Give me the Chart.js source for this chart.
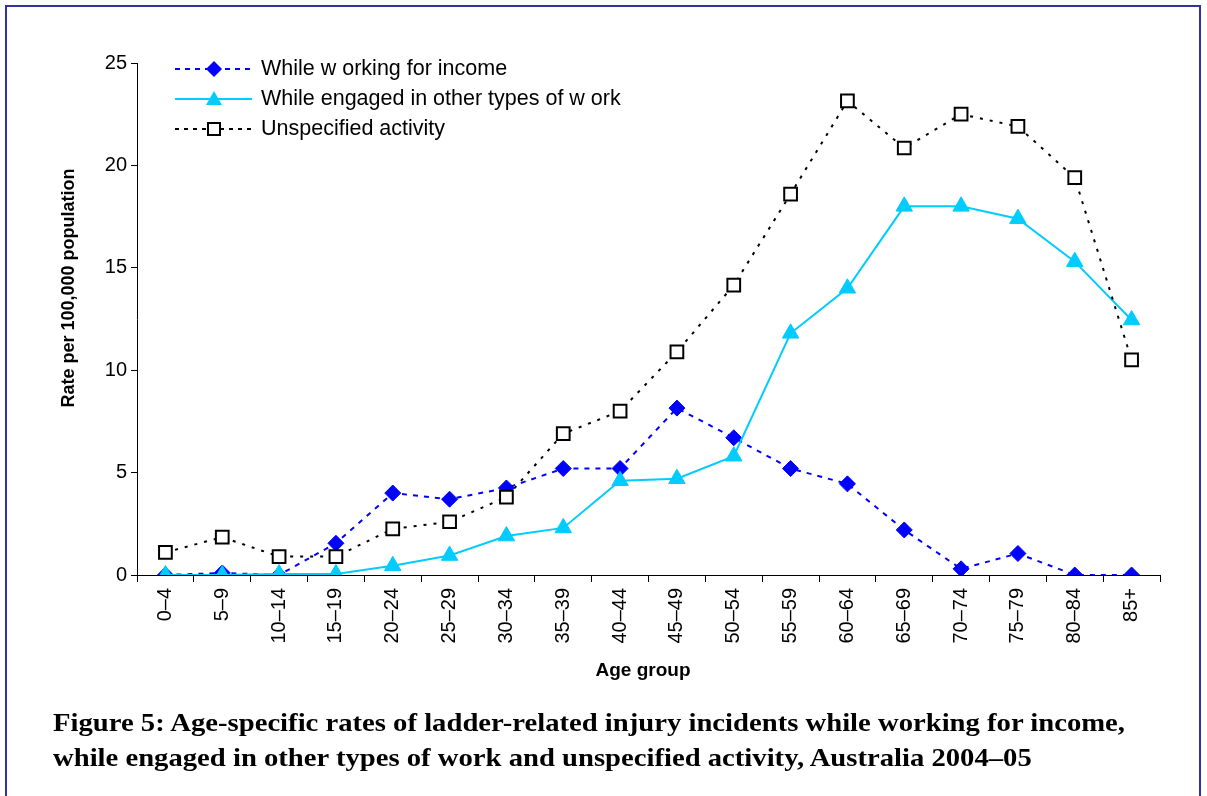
<!DOCTYPE html>
<html>
<head>
<meta charset="utf-8">
<script src="https://cdn.jsdelivr.net/npm/chart.js@4.4.1/dist/chart.umd.min.js"></script>
<style>
  html, body { margin: 0; padding: 0; background: #fff; }
  #wrap { position: relative; width: 1207px; height: 796px; overflow: hidden; background: #fff; }
  #frame { position: absolute; left: 5px; top: 5px; width: 1196px; height: 800px; border: 2px solid #3333a0; box-sizing: border-box; }
  #chart { position: absolute; left: 0; top: 0; }
  .legend { position: absolute; left: 172px; font-family: "Liberation Sans", Arial, sans-serif; font-size: 21.5px; color: #000; }
  .legend .row { position: absolute; left: 0; height: 30px; white-space: nowrap; }
  .legend svg { position: absolute; left: 0; top: 0; }
  .legend span { position: absolute; left: 89px; top: 2px; }
  #ytitle { position: absolute; left: 68px; top: 288px; transform: translate(-50%, -50%) rotate(-90deg); font-family: "Liberation Sans", Arial, sans-serif; font-weight: bold; font-size: 18px; white-space: nowrap; }
  #xtitle { position: absolute; left: 643px; top: 670px; transform: translate(-50%, -50%); font-family: "Liberation Sans", Arial, sans-serif; font-weight: bold; font-size: 19px; white-space: nowrap; }
  #caption { position: absolute; left: 53px; top: 705px; font-family: "Liberation Serif", "Times New Roman", serif; font-weight: bold; font-size: 26px; line-height: 35px; color: #000; white-space: nowrap; transform-origin: 0 0; }
</style>
</head>
<body>
<div id="wrap">
  <canvas id="chart" width="1207" height="796"></canvas>
  <div id="frame"></div>
  <div class="legend" style="top:54px">
    <div class="row" style="top:0px">
      <svg width="85" height="30"><line x1="3" y1="15" x2="80" y2="15" stroke="#0000ff" stroke-width="2" stroke-dasharray="5,5"/><polygon points="42,7 50,15 42,23 34,15" fill="#0000ff"/></svg>
      <span>While w orking for income</span>
    </div>
    <div class="row" style="top:30px">
      <svg width="85" height="30"><line x1="3" y1="15" x2="80" y2="15" stroke="#00ccff" stroke-width="2"/><polygon points="42,7 50,21 34,21" fill="#00ccff"/></svg>
      <span>While engaged in other types of w ork</span>
    </div>
    <div class="row" style="top:60px">
      <svg width="85" height="30"><line x1="3" y1="15" x2="80" y2="15" stroke="#000" stroke-width="2" stroke-dasharray="4,5"/><rect x="36" y="9" width="12" height="12" fill="#fff" stroke="#000" stroke-width="2"/></svg>
      <span>Unspecified activity</span>
    </div>
  </div>
  <div id="ytitle">Rate per 100,000 population</div>
  <div id="xtitle">Age group</div>
  <div id="caption"><span id="cap1">Figure 5: Age-specific rates of ladder-related injury incidents while working for income,</span><br><span>while engaged in other types of work and unspecified activity, Australia 2004–05</span></div>
</div>
<script>
const ageGroups = ['0–4','5–9','10–14','15–19','20–24','25–29','30–34','35–39','40–44','45–49','50–54','55–59','60–64','65–69','70–74','75–79','80–84','85+'];
const workingForIncome = [0, 0.1, 0, 1.55, 4.0, 3.7, 4.25, 5.2, 5.2, 8.15, 6.7, 5.2, 4.45, 2.2, 0.3, 1.05, 0, 0];
const otherWork = [0, 0, 0.05, 0.05, 0.45, 0.95, 1.9, 2.3, 4.6, 4.7, 5.8, 11.8, 14.0, 18.0, 18.0, 17.4, 15.3, 12.45];
const unspecified = [1.1, 1.85, 0.9, 0.9, 2.25, 2.6, 3.8, 6.9, 8.0, 10.9, 14.15, 18.6, 23.15, 20.85, 22.5, 21.9, 19.4, 10.5];
const yTicks = [0, 5, 10, 15, 20, 25];

// fit caption width to reference line length
(function () {
  const cap = document.getElementById('caption');
  const w = document.getElementById('cap1').getBoundingClientRect().width;
  if (w > 0) cap.style.transform = 'scaleX(' + (1072 / w) + ')';
})();

const tickFont = { family: '"Liberation Sans", Arial, sans-serif', size: 20 };

new Chart(document.getElementById('chart'), {
  type: 'line',
  data: {
    labels: ageGroups,
    datasets: [
      {
        label: 'Unspecified activity',
        data: unspecified,
        borderColor: '#000',
        borderWidth: 2,
        borderDash: [3, 7],
        pointStyle: 'rect',
        pointRadius: 9,
        pointBackgroundColor: '#fff',
        pointBorderColor: '#000',
        pointBorderWidth: 2,
        tension: 0,
        order: 0
      },
      {
        label: 'While engaged in other types of w ork',
        data: otherWork,
        borderColor: '#00ccff',
        borderWidth: 2,
        pointStyle: 'triangle',
        pointRadius: 9.5,
        pointBackgroundColor: '#00ccff',
        pointBorderColor: '#00ccff',
        pointBorderWidth: 1,
        tension: 0,
        order: 1
      },
      {
        label: 'While w orking for income',
        data: workingForIncome,
        borderColor: '#0000ff',
        borderWidth: 2,
        borderDash: [5, 6],
        pointStyle: 'rectRot',
        pointRadius: 8,
        pointBackgroundColor: '#0000ff',
        pointBorderColor: '#0000ff',
        pointBorderWidth: 1,
        tension: 0,
        order: 2
      }
    ]
  },
  options: {
    responsive: false,
    animation: false,
    events: [],
    layout: { padding: { left: 0, top: 63, right: 47, bottom: 101 } },
    plugins: { legend: { display: false }, tooltip: { enabled: false } },
    scales: {
      x: {
        offset: true,
        grid: { display: true, drawOnChartArea: false, offset: true, tickLength: 7, color: '#000', tickColor: '#000' },
        border: { display: true, color: '#000', width: 1 },
        ticks: { color: '#000', font: tickFont, minRotation: 90, maxRotation: 90, padding: 6, autoSkip: false },
        afterFit: (s) => { s.height = 120; }
      },
      y: {
        min: 0, max: 25,
        afterBuildTicks: (s) => { s.ticks = yTicks.map(v => ({ value: v })); },
        grid: { display: true, drawOnChartArea: false, tickLength: 6, color: '#000', tickColor: '#000' },
        border: { display: true, color: '#000', width: 1 },
        ticks: { color: '#000', font: tickFont, padding: 4 },
        afterFit: (s) => { s.width = 137; }
      }
    }
  }
});
</script>
</body>
</html>
